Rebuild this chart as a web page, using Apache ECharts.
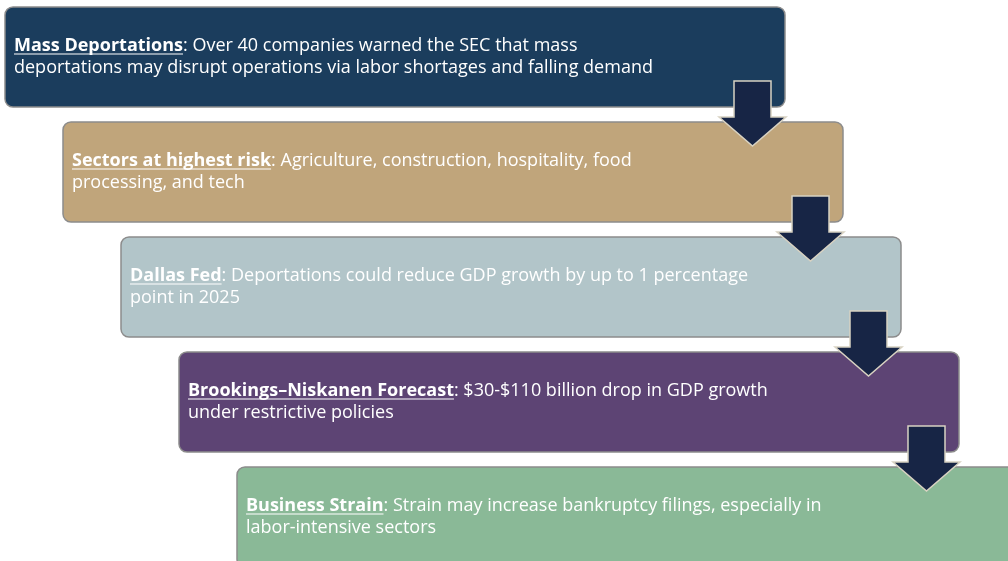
<!DOCTYPE html>
<html>
<head>
<meta charset="utf-8">
<script src="https://cdn.jsdelivr.net/npm/echarts@6/dist/echarts.min.js"></script>
<style>
  html, body { margin: 0; padding: 0; background: #fff; }
  #chart { width: 1008px; height: 561px; }
</style>
</head>
<body>
<div id="chart"></div>
<script>
// steps of the cascade, top to bottom
const steps = [0, 1, 2, 3, 4];
const titles = [
  "Mass Deportations",
  "Sectors at highest risk",
  "Dallas Fed",
  "Brookings\u2013Niskanen Forecast",
  "Business Strain"
];
const firstLines = [
  ": Over 40 companies warned the SEC that mass",
  ": Agriculture, construction, hospitality, food",
  ": Deportations could reduce GDP growth by up to 1 percentage",
  ": $30-$110 billion drop in GDP growth",
  ": Strain may increase bankruptcy filings, especially in"
];
const secondLines = [
  "deportations may disrupt operations via labor shortages and falling demand",
  "processing, and tech",
  "point in 2025",
  "under restrictive policies",
  "labor-intensive sectors"
];
const boxColors = ["#1b3d5d", "#c0a57b", "#b2c5c9", "#5d4474", "#8ab997"];

const FONT = '"Open Sans", sans-serif';
const FS = 18;

let chart = echarts.init(document.getElementById("chart"));

const measure = document.createElement("canvas").getContext("2d");
function titleWidth(t) {
  measure.font = "bold " + FS + "px " + FONT;
  return measure.measureText(t).width;
}

// one step = 58px across, 115px down
const stepX = 58, stepY = 115;

function renderBox(params, api) {
  const i = api.value(0);
  const p = api.coord([i, i]);
  const sz = api.size([780 / stepX, 100 / stepY]);
  const x = p[0], y = p[1], w = sz[0], h = sz[1];
  const cy = y + h / 2;
  const tx = x + 9;
  const tw = titleWidth(titles[i]);
  return {
    type: "group",
    children: [
      {
        type: "rect",
        shape: { x: x, y: y, width: w, height: h, r: 8 },
        style: { fill: boxColors[i], stroke: "#8c8c8c", lineWidth: 1.5 }
      },
      {
        type: "text",
        style: {
          x: tx,
          y: cy,
          text: "{b|" + titles[i] + "}" + firstLines[i] + "\n" + secondLines[i],
          fill: "#fff",
          font: FS + "px " + FONT,
          lineHeight: 22,
          verticalAlign: "middle",
          align: "left",
          rich: {
            b: { fontWeight: "bold", fontSize: FS, fontFamily: FONT, fill: "#fff", lineHeight: 22 }
          }
        }
      },
      {
        type: "line",
        shape: { x1: tx, y1: cy - 3, x2: tx + tw, y2: cy - 3 },
        style: { stroke: "#fff", lineWidth: 1.2 }
      }
    ]
  };
}

function renderArrow(params, api) {
  const i = api.value(0);
  if (i >= steps.length - 1) return null;
  const p = api.coord([i, i]);
  const cx = p[0] + 747.5;
  const y0 = p[1] + 74;
  const sw = 18.5, hw = 33.5;
  return {
    type: "polygon",
    shape: {
      points: [
        [cx - sw, y0], [cx + sw, y0], [cx + sw, y0 + 36], [cx + hw, y0 + 36],
        [cx, y0 + 65], [cx - hw, y0 + 36], [cx - sw, y0 + 36]
      ]
    },
    style: { fill: "#172545", stroke: "#d8d2c2", lineWidth: 1.5 }
  };
}

let option = {
  animation: false,
  grid: { left: 0, right: 0, top: 0, bottom: 0 },
  xAxis: { type: "value", min: -5 / stepX, max: (1008 - 5) / stepX, show: false },
  yAxis: { type: "value", inverse: true, min: -7 / stepY, max: (561 - 7) / stepY, show: false },
  series: [
    {
      type: "custom",
      renderItem: renderBox,
      data: steps.map(s => [s]),
      clip: true,
      z: 1
    },
    {
      type: "custom",
      renderItem: renderArrow,
      data: steps.map(s => [s]),
      clip: true,
      z: 2
    }
  ]
};
chart.setOption(option);
</script>
</body>
</html>
